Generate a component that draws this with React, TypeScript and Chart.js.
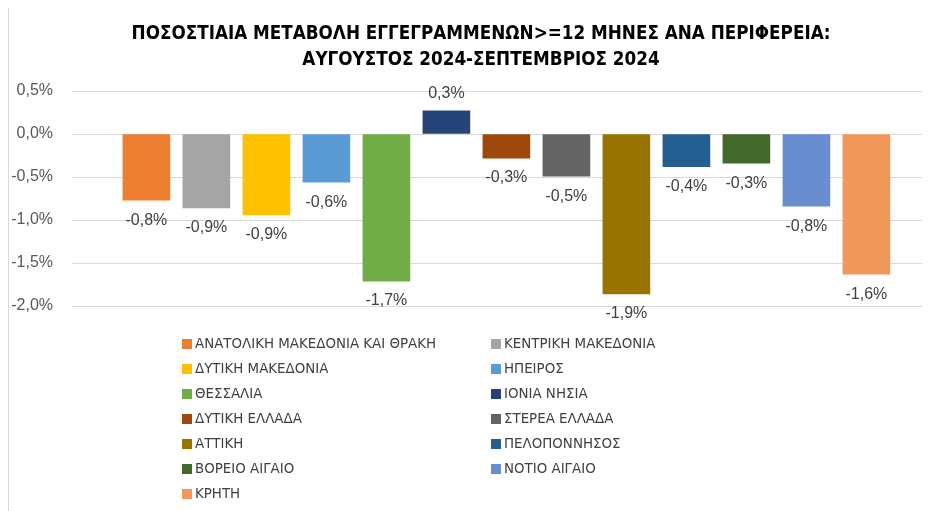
import React, { useEffect, useRef } from "react";
import { Chart, registerables } from "chart.js";

Chart.register(...registerables);

const titleLines = [
  "ΠΟΣΟΣΤΙΑΙΑ ΜΕΤΑΒΟΛΗ ΕΓΓΕΓΡΑΜΜΕΝΩΝ>=12 ΜΗΝΕΣ ΑΝΑ ΠΕΡΙΦΕΡΕΙΑ:",
  "ΑΥΓΟΥΣΤΟΣ 2024-ΣΕΠΤΕΜΒΡΙΟΣ 2024",
];

const regions = [
  "ΑΝΑΤΟΛΙΚΗ ΜΑΚΕΔΟΝΙΑ ΚΑΙ ΘΡΑΚΗ",
  "ΚΕΝΤΡΙΚΗ ΜΑΚΕΔΟΝΙΑ",
  "ΔΥΤΙΚΗ ΜΑΚΕΔΟΝΙΑ",
  "ΗΠΕΙΡΟΣ",
  "ΘΕΣΣΑΛΙΑ",
  "ΙΟΝΙΑ ΝΗΣΙΑ",
  "ΔΥΤΙΚΗ ΕΛΛΑΔΑ",
  "ΣΤΕΡΕΑ ΕΛΛΑΔΑ",
  "ΑΤΤΙΚΗ",
  "ΠΕΛΟΠΟΝΝΗΣΟΣ",
  "ΒΟΡΕΙΟ ΑΙΓΑΙΟ",
  "ΝΟΤΙΟ ΑΙΓΑΙΟ",
  "ΚΡΗΤΗ",
];

const changePct = [
  -0.77, -0.86, -0.94, -0.56, -1.71, 0.27, -0.28, -0.49, -1.86, -0.38, -0.34, -0.84, -1.63,
];

const colors = [
  "#ED7D31", "#A5A5A5", "#FFC000", "#5B9BD5", "#70AD47", "#264478", "#9E480E",
  "#636363", "#997300", "#255E91", "#43682B", "#698ED0", "#F1975A",
];

const yTicks = [0.5, 0, -0.5, -1, -1.5, -2];

const fmt = (v: number) => v.toFixed(1).replace(".", ",") + "%";

const FONT = "'DejaVu Sans Condensed', 'Liberation Sans', sans-serif";
const FONT2 = "'Liberation Sans', sans-serif";

const titlePlugin = {
  id: "customTitle",
  afterDraw(chart: any) {
    const ctx = chart.ctx;
    ctx.save();
    ctx.font = `bold 18.7px ${FONT}`;
    ctx.fillStyle = "#000000";
    ctx.textAlign = "center";
    ctx.textBaseline = "middle";
    const cx = 472;
    titleLines.forEach((t, i) => ctx.fillText(t, cx, 26 + i * 26));
    ctx.restore();
  },
};

const valueLabels = {
  id: "valueLabels",
  afterDatasetsDraw(chart: any) {
    const ctx = chart.ctx;
    ctx.save();
    ctx.font = `16px ${FONT2}`;
    ctx.fillStyle = "#404040";
    ctx.textAlign = "center";
    ctx.textBaseline = "middle";
    chart.data.datasets.forEach((ds: any, i: number) => {
      const meta = chart.getDatasetMeta(i);
      meta.data.forEach((el: any, j: number) => {
        const v = ds.data[j].y;
        const y = v < 0 ? el.y + 20 : el.y - 17.5;
        ctx.fillText(fmt(v), el.x, y);
      });
    });
    ctx.restore();
  },
};

const gridLegend = {
  id: "gridLegend",
  afterDraw(chart: any) {
    const ctx = chart.ctx;
    ctx.save();
    ctx.font = `14.9px ${FONT}`;
    ctx.textBaseline = "middle";
    ctx.textAlign = "left";
    const top = chart.chartArea.bottom + 38;
    const colX = [173, 482];
    chart.data.datasets.forEach((ds: any, i: number) => {
      const col = i % 2;
      const row = Math.floor(i / 2);
      const cy = top + row * 25;
      const x = colX[col];
      ctx.fillStyle = ds.backgroundColor;
      ctx.fillRect(x, cy - 5, 10, 10);
      ctx.fillStyle = "#404040";
      ctx.fillText(ds.label, x + 13, cy + 0.5);
    });
    ctx.restore();
  },
};

export default function App() {
  const ref = useRef<HTMLCanvasElement>(null);
  useEffect(() => {
    if (!ref.current) return;
    const chart = new Chart(ref.current, {
      type: "bar",
      data: {
        datasets: regions.map((r, i) => ({
          label: r,
          data: [{ x: i, y: changePct[i] }],
          backgroundColor: colors[i],
          borderWidth: 0,
          barThickness: 47,
          grouped: false,
        })),
      },
      options: {
        animation: false,
        responsive: false,
        layout: { padding: { top: 83, bottom: 205, left: 0, right: 0 } },
        plugins: {
          legend: { display: false },
          tooltip: { enabled: false },
          title: { display: false },
        },
        scales: {
          x: {
            type: "linear",
            display: false,
            offset: false,
            grid: { offset: false, display: false },
            ticks: { display: false },
            min: -1.24,
            max: 13.06,
          },
          y: {
            min: -2,
            max: 0.5,
            afterFit: (s: any) => {
              s.width = 63;
            },
            afterBuildTicks: (s: any) => {
              s.ticks = yTicks.map((v) => ({ value: v }));
            },
            border: { display: false },
            grid: { color: "#d9d9d9", drawTicks: false, lineWidth: 1 },
            ticks: {
              padding: 19,
              color: "#595959",
              font: { family: FONT2, size: 16 },
              callback: (v: any) => fmt(Number(v)),
            },
          },
        },
      },
      plugins: [valueLabels, gridLegend, titlePlugin],
    });
    return () => chart.destroy();
  }, []);
  return (
    <div style={{ borderLeft: "1px solid #d9d9d9", width: 921, height: 503 }}>
      <canvas ref={ref} width={921} height={503} style={{ display: "block" }} />
    </div>
  );
}
